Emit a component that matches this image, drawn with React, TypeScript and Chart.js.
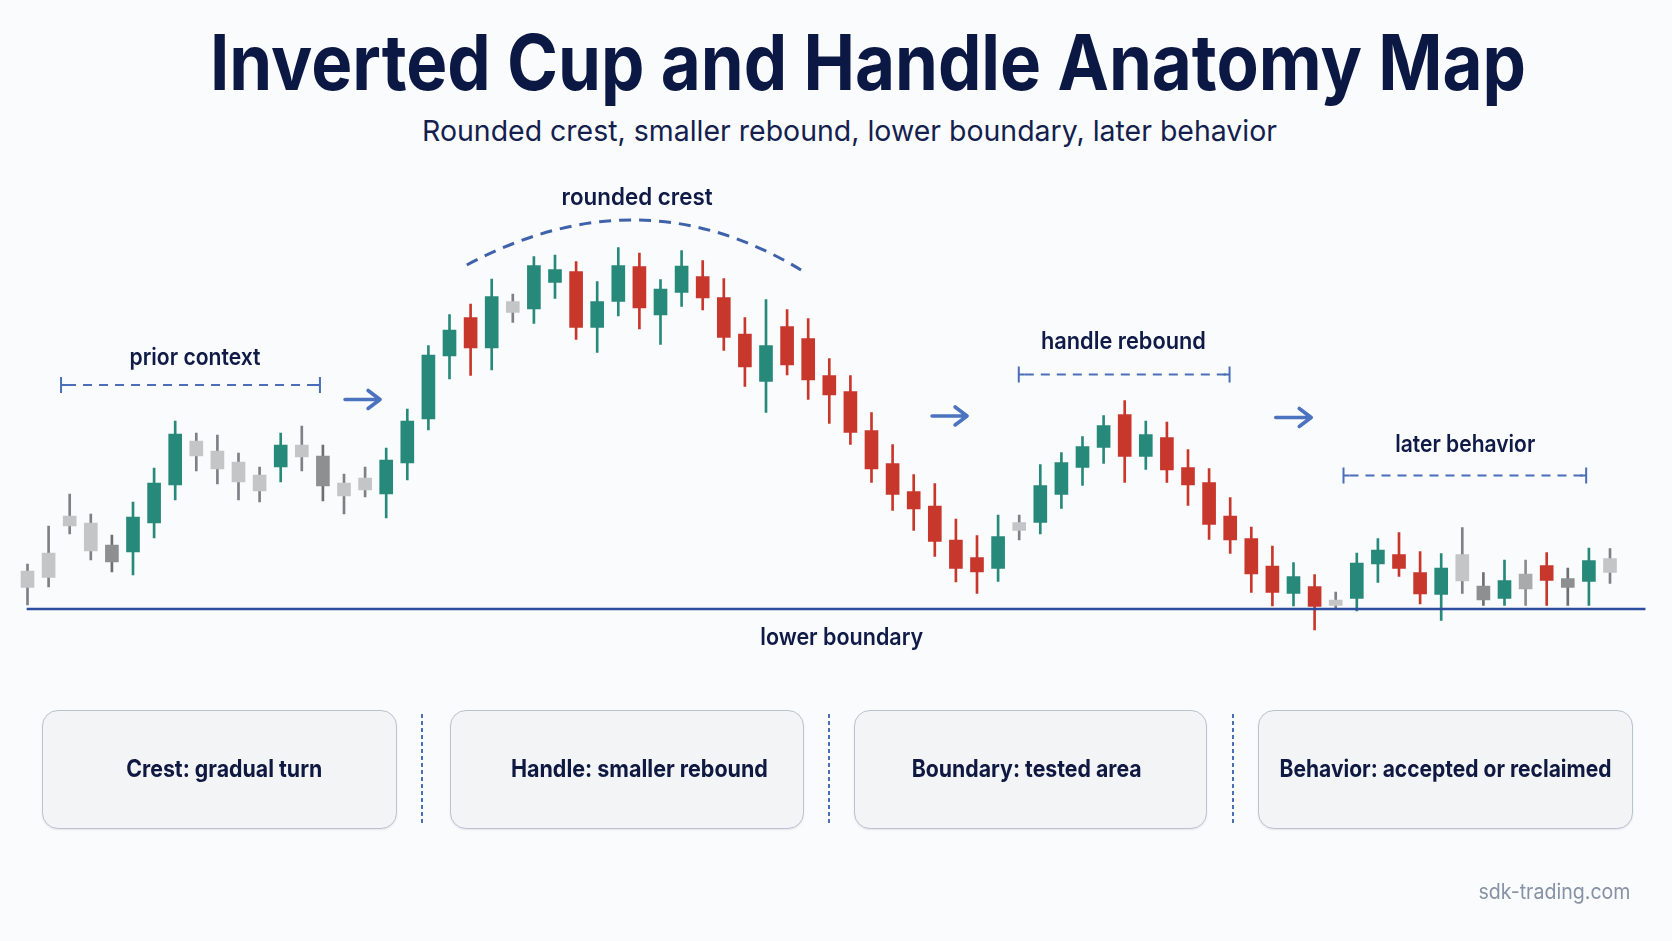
import React, { useEffect, useRef } from "react";
import { Chart, registerables } from "chart.js";

Chart.register(...registerables);

// ---- candle data (one entry per session) ----
const tones = [
  "light", "light", "light", "light", "dark", "up", "up", "up", "light", "light",
  "light", "light", "up", "light", "dark", "light", "light", "up", "up", "up",
  "up", "down", "up", "light", "up", "up", "down", "up", "up", "down",
  "up", "up", "down", "down", "down", "up", "down", "down", "down", "down",
  "down", "down", "down", "down", "down", "down", "up", "light", "up", "up",
  "up", "up", "down", "up", "down", "down", "down", "down", "down", "down",
  "up", "down", "light", "up", "up", "down", "down", "up", "light", "dark",
  "up", "mid", "down", "dark", "up", "light",
];
const opens = [
  104.3, 106.3, 116.6, 117.2, 112.8, 111.4, 117.2, 124.8, 130.6, 131.6,
  129.4, 126.8, 128.4, 130.4, 130.6, 125.2, 123.8, 123.0, 129.2, 138.0,
  150.6, 158.3, 152.2, 159.3, 160.0, 165.3, 167.5, 156.3, 161.5, 168.5,
  158.8, 163.3, 166.5, 162.3, 155.0, 145.5, 156.5, 154.1, 146.7, 143.5,
  135.7, 129.1, 123.5, 120.6, 113.8, 110.3, 108.1, 115.7, 117.3, 122.9,
  128.3, 132.3, 138.9, 130.5, 134.3, 128.3, 125.3, 118.6, 114.1, 108.6,
  103.1, 104.5, 100.7, 102.1, 109.0, 110.9, 107.3, 102.9, 105.6, 104.6,
  102.1, 104.0, 108.7, 106.1, 105.5, 107.3,
];
const highs = [
  109.0, 116.6, 123.0, 119.0, 114.8, 121.4, 128.2, 137.6, 135.2, 134.8,
  131.2, 128.4, 135.2, 136.6, 132.8, 127.0, 128.4, 132.2, 140.0, 152.7,
  158.9, 161.0, 166.0, 163.0, 170.5, 170.8, 169.5, 165.5, 172.3, 171.2,
  165.9, 171.7, 169.7, 166.1, 158.3, 161.9, 159.9, 158.1, 150.1, 146.7,
  139.3, 132.9, 126.9, 125.1, 118.0, 114.7, 118.8, 118.8, 128.9, 131.3,
  134.5, 138.7, 141.7, 137.6, 137.4, 131.9, 128.1, 122.3, 116.4, 112.6,
  109.3, 106.9, 103.4, 111.2, 114.1, 115.3, 111.5, 111.1, 116.3, 107.3,
  109.8, 109.8, 111.3, 108.2, 112.2, 112.1,
];
const lows = [
  100.8, 104.4, 115.0, 109.8, 107.4, 106.8, 114.2, 121.8, 127.6, 125.0,
  121.8, 121.4, 125.4, 127.6, 121.6, 119.0, 122.4, 118.2, 125.8, 135.8,
  146.0, 146.7, 147.8, 157.3, 157.1, 162.1, 153.9, 151.3, 158.6, 156.0,
  152.9, 160.5, 159.8, 151.7, 144.5, 139.3, 146.8, 141.9, 137.1, 132.9,
  125.3, 119.7, 115.7, 110.5, 105.4, 103.1, 105.5, 113.8, 115.0, 120.1,
  124.7, 129.1, 125.3, 127.9, 125.3, 120.7, 113.9, 111.1, 103.3, 100.6,
  100.6, 95.8, 100.1, 99.6, 105.3, 106.5, 101.0, 97.7, 103.1, 100.7,
  100.7, 100.7, 100.7, 100.7, 100.7, 105.1,
];
const closes = [
  107.6, 111.2, 118.6, 111.6, 109.4, 118.4, 125.2, 135.0, 133.6, 128.0,
  125.4, 123.6, 132.8, 132.8, 124.6, 122.6, 126.2, 129.8, 137.6, 150.8,
  155.8, 152.2, 162.5, 161.5, 168.7, 167.9, 156.3, 161.5, 168.7, 160.2,
  164.0, 168.6, 162.2, 154.3, 148.4, 152.7, 148.8, 145.8, 142.8, 135.3,
  128.0, 122.9, 120.0, 113.5, 108.1, 107.4, 114.5, 117.3, 124.7, 129.3,
  132.5, 136.7, 130.5, 134.9, 127.8, 124.8, 116.9, 113.8, 107.0, 103.3,
  106.5, 100.5, 101.8, 109.2, 111.8, 108.1, 103.0, 108.2, 110.9, 101.8,
  105.7, 107.0, 105.7, 104.3, 109.7, 110.1,
];
const sessions = opens.map((_, i) => `S${i + 1}`);

// ---- annotation anchors (session index, price) ----
const boundaryLevel = 100;
const boundarySpan = [-0.04, 76.68];
const brackets = [
  { from: 1.59, to: 13.86, level: 144.8 },
  { from: 46.98, to: 56.97, level: 146.9 },
  { from: 62.37, to: 73.87, level: 126.7 },
];
const arrows = [
  { from: 15.05, to: 16.71, level: 141.9 },
  { from: 42.87, to: 44.53, level: 138.6 },
  { from: 59.16, to: 60.84, level: 138.3 },
];
const crestArc = { start: [20.82, 168.8], peak: [28.89, 177.8], end: [36.66, 167.8] };
const zoneLabels = [
  { text: "prior context", at: 7.94, level: 148.8, width: 131 },
  { text: "rounded crest", at: 28.89, level: 180.8, width: 151 },
  { text: "handle rebound", at: 51.94, level: 152.1, width: 165 },
  { text: "later behavior", at: 68.14, level: 131.4, width: 140 },
  { text: "lower boundary", at: 38.59, level: 92.8, width: 163 },
];
const cards = [
  { text: "Crest: gradual turn", left: 41.7, right: 396.7, cx: 224.5, width: 196 },
  { text: "Handle: smaller rebound", left: 450, right: 804, cx: 639, width: 257 },
  { text: "Boundary: tested area", left: 854, right: 1207, cx: 1027, width: 230 },
  { text: "Behavior: accepted or reclaimed", left: 1258.3, right: 1633.3, cx: 1446, width: 332 },
];
const separators = [421.7, 829, 1233];

const BODY: Record<string, string> = {
  up: "#27897a", down: "#c8372c", light: "#c3c5c7", dark: "#8e8f91", mid: "#a8aaac",
};
const WICK: Record<string, string> = {
  up: "#27897a", down: "#c8372c", light: "#7e8083", dark: "#6d6f71", mid: "#8a8c8e",
};
const INK = "#0f1a47";
const BLUE = "#4a6fb8";

const measureCtx = document.createElement("canvas").getContext("2d") as CanvasRenderingContext2D;

function drawFitText(ctx: CanvasRenderingContext2D, text: string, cx: number, baseline: number, font: string, color: string, width: number) {
  ctx.save();
  ctx.font = font;
  const w = ctx.measureText(text).width;
  ctx.translate(cx, baseline);
  ctx.scale(width / w, 1);
  ctx.textAlign = "center";
  ctx.textBaseline = "alphabetic";
  ctx.fillStyle = color;
  ctx.fillText(text, 0, 0);
  ctx.restore();
}

const anatomyPlugin = {
  id: "anatomy",
  afterDatasetsDraw(chart: any) {
    const ctx: CanvasRenderingContext2D = chart.ctx;
    const xs = chart.scales.x;
    const ys = chart.scales.y;
    const X = (v: number) => xs.getPixelForValue(v);
    const Y = (v: number) => ys.getPixelForValue(v);

    // lower boundary
    ctx.save();
    ctx.strokeStyle = "#2d4d9e";
    ctx.lineWidth = 2.6;
    ctx.beginPath();
    ctx.moveTo(X(boundarySpan[0]), Y(boundaryLevel));
    ctx.lineTo(X(boundarySpan[1]), Y(boundaryLevel));
    ctx.stroke();
    ctx.restore();

    // brackets
    for (const b of brackets) {
      const x0 = X(b.from), x1 = X(b.to), y = Y(b.level);
      ctx.save();
      ctx.strokeStyle = BLUE;
      ctx.lineWidth = 2;
      ctx.setLineDash([9, 7]);
      ctx.beginPath();
      ctx.moveTo(x0 + 6, y);
      ctx.lineTo(x1 - 3, y);
      ctx.stroke();
      ctx.setLineDash([]);
      ctx.beginPath();
      ctx.moveTo(x0, y - 8); ctx.lineTo(x0, y + 8);
      ctx.moveTo(x1, y - 8); ctx.lineTo(x1, y + 8);
      ctx.moveTo(x0, y); ctx.lineTo(x0 + 6, y);
      ctx.moveTo(x1 - 6, y); ctx.lineTo(x1, y);
      ctx.stroke();
      ctx.restore();
    }

    // arrows
    for (const a of arrows) {
      const x0 = X(a.from), x1 = X(a.to), y = Y(a.level);
      ctx.save();
      ctx.strokeStyle = "#4b73bf";
      ctx.lineWidth = 3.6;
      ctx.lineCap = "round";
      ctx.lineJoin = "round";
      ctx.beginPath();
      ctx.moveTo(x0, y);
      ctx.lineTo(x1 - 1, y);
      ctx.moveTo(x1 - 12, y - 9);
      ctx.lineTo(x1, y);
      ctx.lineTo(x1 - 12, y + 9);
      ctx.stroke();
      ctx.restore();
    }

    // rounded crest arc
    const p0 = [X(crestArc.start[0]), Y(crestArc.start[1])];
    const pm = [X(crestArc.peak[0]), Y(crestArc.peak[1])];
    const p2 = [X(crestArc.end[0]), Y(crestArc.end[1])];
    const c = [2 * pm[0] - (p0[0] + p2[0]) / 2, 2 * pm[1] - (p0[1] + p2[1]) / 2];
    ctx.save();
    ctx.strokeStyle = "#3f62ab";
    ctx.lineWidth = 3;
    ctx.setLineDash([12, 8]);
    ctx.beginPath();
    ctx.moveTo(p0[0], p0[1]);
    ctx.quadraticCurveTo(c[0], c[1], p2[0], p2[1]);
    ctx.stroke();
    ctx.restore();

    // zone labels
    for (const l of zoneLabels) {
      drawFitText(ctx, l.text, X(l.at), Y(l.level), "600 24px Inter", INK, l.width);
    }
  },
};

function FitText(props: { text: string; family: string; weight: number; size: number; cx: number; baseline: number; width: number; color: string }) {
  const { text, family, weight, size, cx, baseline, width, color } = props;
  measureCtx.font = `${weight} ${size}px ${family}`;
  const m = measureCtx.measureText(text);
  const w = m.width;
  const A = (m as any).fontBoundingBoxAscent ?? size * 0.97;
  const D = (m as any).fontBoundingBoxDescent ?? size * 0.24;
  const offset = (size + A - D) / 2;
  return (
    <div
      style={{
        position: "absolute",
        left: cx - w / 2,
        top: baseline - offset,
        width: w,
        fontFamily: family,
        fontWeight: weight,
        fontSize: size,
        lineHeight: `${size}px`,
        whiteSpace: "nowrap",
        color,
        transform: `scaleX(${width / w})`,
        transformOrigin: "50% 50%",
      }}
    >
      {text}
    </div>
  );
}

export default function App() {
  const canvasRef = useRef<HTMLCanvasElement>(null);

  useEffect(() => {
    const canvas = canvasRef.current;
    if (!canvas) return;
    const chart = new Chart(canvas, {
      type: "bar",
      data: {
        labels: sessions,
        datasets: [
          {
            label: "range",
            data: lows.map((l, i) => [l, highs[i]]) as any,
            backgroundColor: tones.map((t) => WICK[t]),
            borderWidth: 0,
            barThickness: 2,
            grouped: false,
            order: 2,
          } as any,
          {
            label: "body",
            data: opens.map((o, i) => [Math.min(o, closes[i]), Math.max(o, closes[i])]) as any,
            backgroundColor: tones.map((t) => BODY[t]),
            borderWidth: 0,
            barThickness: 13,
            grouped: false,
            order: 1,
          } as any,
        ],
      },
      options: {
        responsive: false,
        animation: false,
        devicePixelRatio: 1,
        events: [],
        layout: { padding: { left: 16.95, right: 51.45, top: 159, bottom: 282 } },
        plugins: { legend: { display: false }, tooltip: { enabled: false } },
        scales: {
          x: { display: false, offset: true, grid: { display: false } },
          y: { display: false, min: 90, max: 190 },
        },
      },
      plugins: [anatomyPlugin],
    });
    return () => chart.destroy();
  }, []);

  return (
    <div
      style={{
        position: "absolute",
        left: 0,
        top: 0,
        width: 1672,
        height: 941,
        background: "#fafbfc",
        overflow: "hidden",
      }}
    >
      <FitText text="Inverted Cup and Handle Anatomy Map" family="Inter" weight={700} size={77} cx={867.5} baseline={90} width={1316} color="#0c1844" />
      <FitText text="Rounded crest, smaller rebound, lower boundary, later behavior" family="Inter" weight={400} size={29} cx={849.5} baseline={140.7} width={855} color="#141f4e" />
      <canvas ref={canvasRef} width={1672} height={941} style={{ position: "absolute", left: 0, top: 0 }} />
      {cards.map((c) => (
        <div
          key={c.text}
          style={{
            position: "absolute",
            left: c.left,
            top: 710,
            width: c.right - c.left,
            height: 119,
            boxSizing: "border-box",
            border: "1.5px solid #bcc2ce",
            borderRadius: 16,
            background: "#f3f4f6",
            boxShadow: "0 1px 2px rgba(40,50,80,0.10)",
          }}
        />
      ))}
      {cards.map((c) => (
        <FitText key={c.text + "t"} text={c.text} family="Inter" weight={700} size={24} cx={c.cx} baseline={777.3} width={c.width} color="#0e1840" />
      ))}
      {separators.map((x) => (
        <div
          key={x}
          style={{
            position: "absolute",
            left: x - 0.75,
            top: 714,
            width: 1.6,
            height: 111,
            background: "repeating-linear-gradient(to bottom, #4a6fb8 0px, #4a6fb8 4px, transparent 4px, transparent 7px)",
          }}
        />
      ))}
      <FitText text="sdk-trading.com" family="Inter" weight={400} size={21} cx={1555} baseline={898.5} width={152} color="#8892a6" />
    </div>
  );
}
